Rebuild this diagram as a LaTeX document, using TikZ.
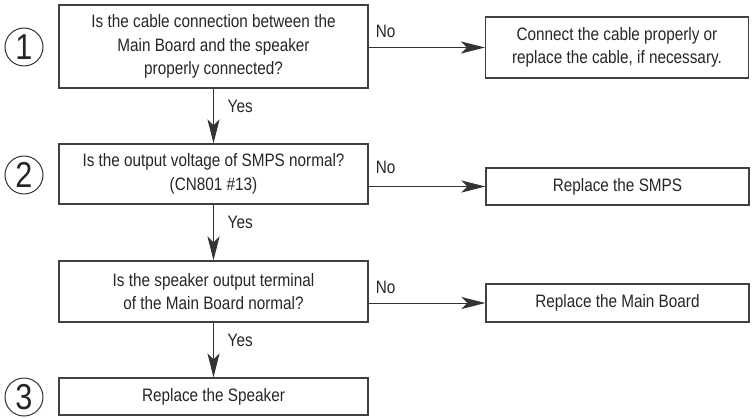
\documentclass[tikz,border=0pt]{standalone}
\usepackage{fontspec}
\setmainfont{Liberation Sans}[FakeStretch=0.85]
\usetikzlibrary{arrows.meta}
\begin{document}
\begin{tikzpicture}[x=1pt,y=-1pt,
  basefont/.style={font=\fontsize{18}{23.5}\selectfont, text=black!85},
  qbox/.style={basefont, draw=black!75, line width=1.1pt, minimum width=309pt, minimum height=#1, inner sep=0pt, align=center},
  abox/.style={basefont, draw=black!75, line width=1.1pt, minimum width=263pt, minimum height=#1, inner sep=0pt, align=center},
  numc/.style={circle, draw=black!80, line width=1pt, minimum size=38pt, inner sep=0pt, font=\fontsize{36}{36}\selectfont, text=black!85},
  arr/.style={draw=black!80, line width=1pt, -{Stealth[length=24pt,width=12pt,inset=6pt]}},
  lbl/.style={basefont, inner sep=0pt, anchor=base west}
]
\useasboundingbox (0,0) rectangle (752,418);

% question boxes
\node[qbox=83pt] (q1) at (213.5,46.5) {Is the cable connection between the\\Main Board and the speaker\\properly connected?};
\node[qbox=60pt] (q2) at (213.5,174) {Is the output voltage of SMPS normal?\\(CN801 \#13)};
\node[qbox=61pt] (q3) at (213.5,291.5) {Is the speaker output terminal\\of the Main Board normal?};
\node[qbox=37pt] (q4) at (213.5,396.5) {Replace the Speaker};

% action boxes
\node[abox=61pt] (a1) at (617,47.5) {Connect the cable properly or\\replace the cable, if necessary.};
\node[abox=37pt] (a2) at (617.5,186.5) {Replace the SMPS};
\node[abox=38pt] (a3) at (617.5,303) {Replace the Main Board};

% step numbers
\node[numc] (n1) at (24,47) {1};
\node[numc] (n2) at (24,175) {2};
\node[numc] (n3) at (24,397) {3};

% Yes arrows
\draw[arr] (q1.south) -- (q2.north);
\draw[arr] (q2.south) -- (q3.north);
\draw[arr] (q3.south) -- (q4.north);
\node[lbl] (y1) at ([shift={(14,23.5)}]q1.south) {Yes};
\node[lbl] (y2) at ([shift={(14,23.5)}]q2.south) {Yes};
\node[lbl] (y3) at ([shift={(14,23.5)}]q3.south) {Yes};

% No arrows
\coordinate (s1) at (q1.east |- a1.west);
\coordinate (s2) at (q2.east |- a2.west);
\coordinate (s3) at (q3.east |- a3.west);
\draw[arr] (s1) -- (a1.west);
\draw[arr] (s2) -- (a2.west);
\draw[arr] (s3) -- (a3.west);
\node[lbl] (m1) at ([shift={(7,-10.5)}]s1) {No};
\node[lbl] (m2) at ([shift={(7,-13)}]s2) {No};
\node[lbl] (m3) at ([shift={(7,-10)}]s3) {No};
\end{tikzpicture}
\end{document}
